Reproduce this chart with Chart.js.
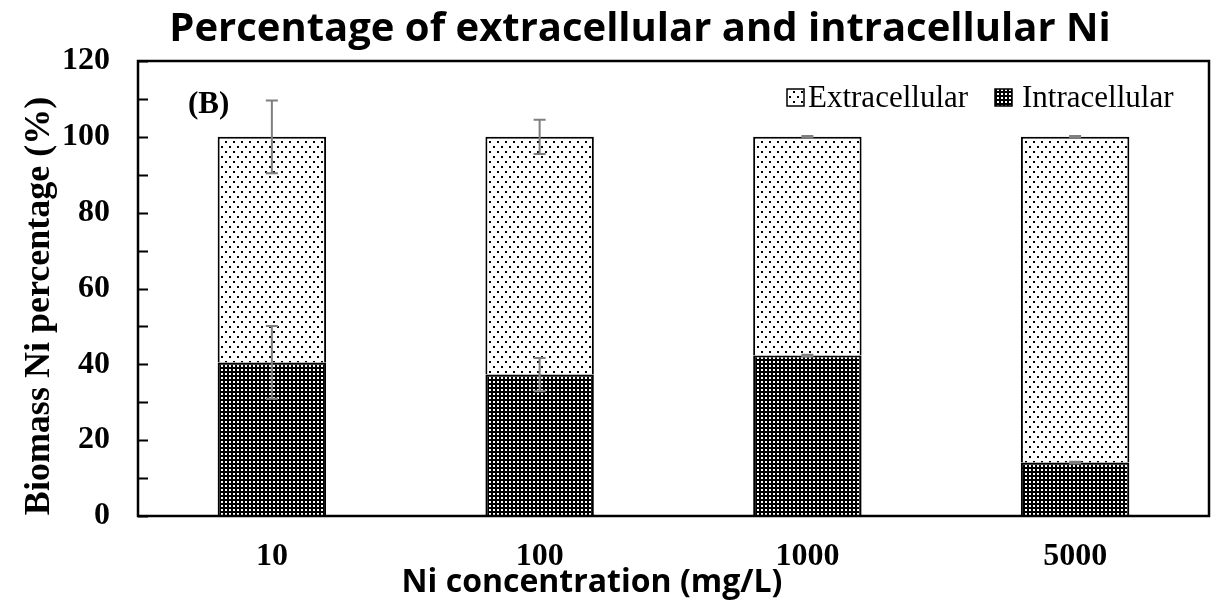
<!DOCTYPE html>
<html>
<head>
<meta charset="utf-8">
<script src="https://cdn.jsdelivr.net/npm/chart.js@4.4.0/dist/chart.umd.min.js"></script>
<style>
  html, body { margin: 0; padding: 0; background: #fff; }
  #wrap { width: 1213px; height: 602px; }
</style>
</head>
<body>
<div id="wrap"><canvas id="chart" width="1213" height="602"></canvas></div>
<script>
// data
const concentrations = ['10', '100', '1000', '5000'];
const intracellular = [40.5, 37.3, 42.3, 14.1];
const extracellular = [59.5, 62.7, 57.7, 85.9];
const intraErr = [9.6, 4.4, 0.2, 0.2];
const extraErr = [9.6, 4.5, 0.2, 0.2];
const yTickStep = 20;
const yMinorStep = 10;

const SERIF = '"Liberation Serif", "Times New Roman", serif';
const SANS = '"Open Sans", "Noto Sans", sans-serif';

// fill patterns
function dotPattern() {
  const c = document.createElement('canvas');
  c.width = 8; c.height = 10;
  const g = c.getContext('2d');
  g.fillStyle = '#fff';
  g.fillRect(0, 0, 8, 10);
  g.fillStyle = '#000';
  g.fillRect(1, 1, 2, 2);
  g.fillRect(5, 6, 2, 2);
  return g.createPattern(c, 'repeat');
}

function gridPattern() {
  const c = document.createElement('canvas');
  c.width = 4; c.height = 4;
  const g = c.getContext('2d');
  g.fillStyle = '#000';
  g.fillRect(0, 0, 4, 4);
  g.fillStyle = '#fff';
  g.fillRect(1, 1, 2, 2);
  return g.createPattern(c, 'repeat');
}

// error bars, inner ticks, frame, legend and free texts
const decor = {
  id: 'decor',
  afterDatasetsDraw(chart) {
    const ctx = chart.ctx;
    const y = chart.scales.y;
    const area = chart.chartArea;
    const sets = chart.data.datasets;
    ctx.save();

    // error bars on the top of each stack segment
    sets.forEach((ds, di) => {
      const meta = chart.getDatasetMeta(di);
      meta.data.forEach((bar, i) => {
        let top = 0;
        for (let k = 0; k <= di; k++) top += sets[k].data[i];
        const e = ds.errors[i];
        const y1 = y.getPixelForValue(top + e);
        const y2 = y.getPixelForValue(top - e);
        ctx.strokeStyle = '#7f7f7f';
        ctx.lineWidth = 2;
        ctx.beginPath();
        ctx.moveTo(bar.x, y1); ctx.lineTo(bar.x, y2);
        ctx.moveTo(bar.x - 6, y1); ctx.lineTo(bar.x + 6, y1);
        ctx.moveTo(bar.x - 6, y2); ctx.lineTo(bar.x + 6, y2);
        ctx.stroke();
      });
    });

    // inward ticks on the y axis
    ctx.strokeStyle = '#000';
    ctx.lineWidth = 2;
    ctx.beginPath();
    for (let v = y.min; v <= y.max; v += yMinorStep) {
      const py = Math.round(y.getPixelForValue(v)) + 0.5;
      ctx.moveTo(area.left, py);
      ctx.lineTo(area.left + 10, py);
    }
    ctx.stroke();

    // plot frame
    ctx.lineWidth = 2.5;
    ctx.strokeRect(area.left, area.top, area.right - area.left, area.bottom - area.top);

    // legend (Extracellular first, then Intracellular)
    const legendItems = [
      { ds: sets[1], box: 787, text: 808 },
      { ds: sets[0], box: 995, text: 1022 }
    ];
    ctx.font = '31px ' + SERIF;
    ctx.textAlign = 'left';
    ctx.textBaseline = 'alphabetic';
    legendItems.forEach(it => {
      ctx.fillStyle = it.ds.backgroundColor;
      ctx.fillRect(it.box, 89, 17, 17);
      ctx.lineWidth = 1.5;
      ctx.strokeStyle = '#000';
      ctx.strokeRect(it.box, 89, 17, 17);
      ctx.fillStyle = '#000';
      ctx.fillText(it.ds.label, it.text, 107);
    });

    // title
    ctx.fillStyle = '#000';
    ctx.textAlign = 'center';
    ctx.font = 'bold 40px ' + SANS;
    ctx.fillText('Percentage of extracellular and intracellular Ni', 640, 41, 956);

    // x axis title
    ctx.font = 'bold 32px ' + SANS;
    ctx.fillText('Ni concentration (mg/L)', 592, 592, 386);

    // panel label
    ctx.textAlign = 'left';
    ctx.font = 'bold 31px ' + SERIF;
    ctx.fillText('(B)', 188, 113);

    // y axis title
    ctx.translate(49, 306);
    ctx.rotate(-Math.PI / 2);
    ctx.textAlign = 'center';
    ctx.font = 'bold 36px ' + SERIF;
    ctx.fillText('Biomass Ni percentage (%)', 0, 0, 428);

    ctx.restore();
  }
};

new Chart(document.getElementById('chart'), {
  type: 'bar',
  data: {
    labels: concentrations,
    datasets: [
      {
        label: 'Intracellular',
        data: intracellular,
        errors: intraErr,
        backgroundColor: gridPattern(),
        borderColor: '#000',
        borderWidth: 2
      },
      {
        label: 'Extracellular',
        data: extracellular,
        errors: extraErr,
        backgroundColor: dotPattern(),
        borderColor: '#000',
        borderWidth: 2
      }
    ]
  },
  options: {
    responsive: false,
    animation: false,
    devicePixelRatio: 1,
    layout: { padding: { top: 61, right: 4, left: 0, bottom: 0 } },
    datasets: { bar: { categoryPercentage: 1, barPercentage: 0.405 } },
    scales: {
      x: {
        stacked: true,
        grid: { display: false, drawTicks: false },
        border: { display: false },
        ticks: { color: '#000', padding: 22, font: { family: SERIF, size: 32, weight: 'bold' } },
        afterFit(s) { s.height = 86; }
      },
      y: {
        stacked: true,
        min: 0,
        max: 120,
        grid: { display: false, drawTicks: false },
        border: { display: false },
        ticks: { stepSize: yTickStep, color: '#000', padding: 28, font: { family: SERIF, size: 32, weight: 'bold' } },
        afterFit(s) { s.width = 138; }
      }
    },
    plugins: {
      tooltip: { enabled: false },
      legend: { display: false }
    }
  },
  plugins: [decor]
});
</script>
</body>
</html>
